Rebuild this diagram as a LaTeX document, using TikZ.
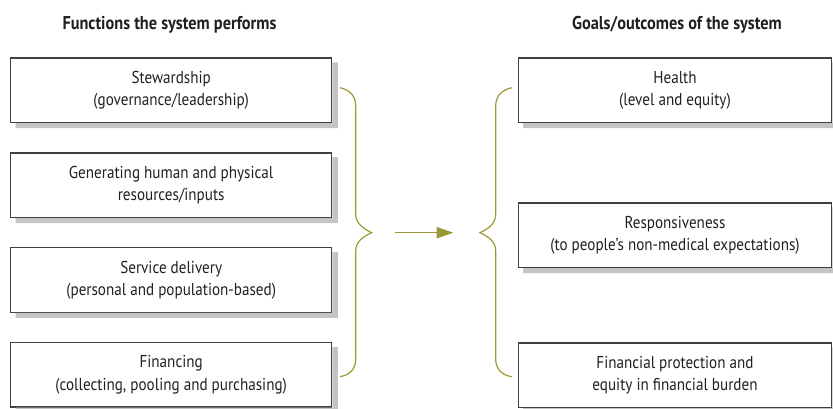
\documentclass[tikz,border=0pt]{standalone}
\usepackage{fontspec}
\setmainfont{PT Sans}[FakeStretch=0.88]
\usetikzlibrary{arrows.meta}

\definecolor{braceolive}{RGB}{155,151,52}
\definecolor{boxgray}{RGB}{64,64,64}
\definecolor{shadowgray}{RGB}{196,196,196}
\definecolor{inkgray}{RGB}{35,31,32}

\begin{document}
\begin{tikzpicture}[x=0.75pt,y=0.75pt,yscale=-1,xscale=1,
  box/.style={draw=boxgray,line width=1pt,fill=white,minimum height=48.4pt,
    inner sep=0pt,align=center,text=inkgray,font=\fontsize{12.9}{16.7}\selectfont},
  leftbox/.style={box,minimum width=240.75pt},
  rightbox/.style={box,minimum width=235pt},
  shade/.style={fill=shadowgray,draw=none},
  heading/.style={font=\fontsize{13.9}{16}\selectfont\bfseries,text=inkgray,inner sep=0.75pt},
  brace/.style={draw=braceolive,line width=0.9pt},
  flow/.style={draw=braceolive,line width=1pt,-{Triangle[length=12.5pt,width=8.4pt]}}]
\path[use as bounding box] (0,0) rectangle (833,408);

% Text Node
\draw (169.5,25) node [heading] (lhead) {Functions the system performs};
% Text Node
\draw (677,25) node [heading] (rhead) {Goals/outcomes of the system};

%Shape: Rectangle [id:steward]
\draw (171.2,90.3) node [leftbox] (steward) {Stewardship\\(governance/leadership)};
%Shape: Rectangle [id:resources]
\draw (171.2,185.1) node [leftbox] (resources) {Generating human and physical\\resources/inputs};
%Shape: Rectangle [id:delivery]
\draw (171.2,279.9) node [leftbox] (delivery) {Service delivery\\(personal and population-based)};
%Shape: Rectangle [id:financing]
\draw (171.2,374.7) node [leftbox] (financing) {Financing\\(collecting, pooling and purchasing)};

%Shape: Rectangle [id:health]
\draw (675,90.3) node [rightbox] (health) {Health\\(level and equity)};
%Shape: Rectangle [id:respons]
\draw (675,235.2) node [rightbox] (respons) {Responsiveness\\(to people’s non-medical expectations)};
%Shape: Rectangle [id:protect]
\draw (675,375.2) node [rightbox] (protect) {Financial protection and\\equity in financial burden};

%Shadows of the boxes
\foreach \b in {steward,resources,delivery,financing,health,respons,protect}
  \fill [shade] ([shift={(0,5)}]\b.north east) -| ([shift={(5.5,5)}]\b.south east)
    -| ([shift={(5.5,0)}]\b.south west) -- (\b.south east) -- cycle ;

%Curve Lines [id:lbrace]
\draw [brace] (340,87.7) .. controls (350,90) and (355.7,96) .. (355.7,106) -- (355.7,214) .. controls (355.7,224) and (364,229) .. (371.7,232.7) coordinate (lbtip) .. controls (364,236.4) and (355.7,241) .. (355.7,251) -- (355.7,359) .. controls (355.7,369) and (350,375) .. (340,376.7) ;
%Curve Lines [id:rbrace]
\draw [brace] (511.7,87.7) .. controls (501.7,90) and (495.7,96) .. (495.7,106) -- (495.7,214) .. controls (495.7,224) and (487.7,229) .. (480,232.7) coordinate (rbtip) .. controls (487.7,236.4) and (495.7,241) .. (495.7,251) -- (495.7,359) .. controls (495.7,369) and (501.7,375) .. (511.7,376.7) ;

%Straight Lines [id:arrow]
\draw [flow,shorten <=17.7pt,shorten >=20pt] (lbtip) -- (rbtip) ;

\end{tikzpicture}
\end{document}
